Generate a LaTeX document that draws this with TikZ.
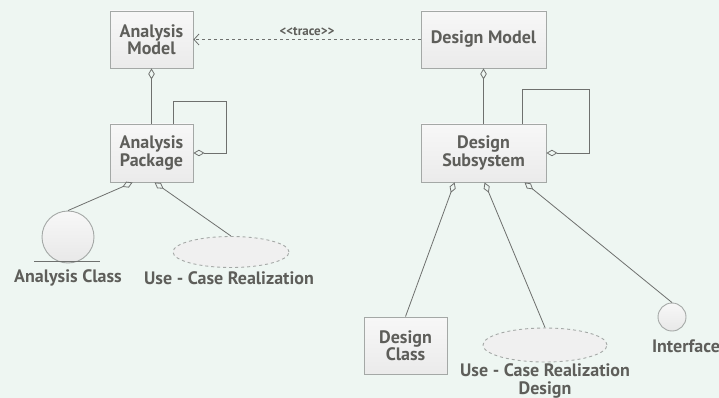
\documentclass[tikz,border=0pt]{standalone}
\usepackage{fontspec}
\setmainfont{PT Sans}
\usetikzlibrary{arrows.meta,calc,shapes.geometric}
\definecolor{bg}{HTML}{EEF6F2}
\definecolor{txt}{HTML}{5E5E5A}
\definecolor{edge}{HTML}{A4A8A6}
\definecolor{ln}{HTML}{6E706E}
\tikzset{
  every node/.style={text=txt,font=\bfseries\fontsize{18}{17.5}\selectfont},
  umlbox/.style={draw=edge,top color=gray!6,bottom color=gray!16,rectangle,inner sep=0pt,align=center,line width=0.9pt},
  umlcirc/.style={draw=edge,top color=gray!6,bottom color=gray!18,circle,inner sep=0pt,line width=0.9pt},
  umlell/.style={draw=edge,dashed,fill=gray!12,ellipse,inner sep=0pt,line width=0.9pt},
  lbl/.style={align=center,inner sep=0pt},
  agg/.style={draw=ln,line width=0.8pt,-{Diamond[open,length=11pt,width=6.5pt]}},
  trace/.style={draw=ln,line width=0.8pt,dashed,-{Straight Barb[length=5pt,width=11pt]}}
}
\begin{document}
\begin{tikzpicture}[x=1pt,y=-1pt]
\useasboundingbox[fill=bg] (0,0) rectangle (719,398);
\node[umlbox,minimum width=83,minimum height=57] (am) at (151.5,39.5) {Analysis\\Model};
\node[umlbox,minimum width=125,minimum height=57] (dm) at (483.5,39.5) {Design Model};
\node[umlbox,minimum width=83,minimum height=58] (ap) at (151.5,153) {Analysis\\Package};
\node[umlbox,minimum width=125,minimum height=58] (ds) at (483.5,153) {Design\\Subsystem};
\node[umlbox,minimum width=83,minimum height=57] (dc) at (405.5,345.5) {Design\\Class};
\node[umlcirc,minimum size=52] (ac) at (68,237) {};
\node[umlell,minimum width=116,minimum height=31] (ucr) at (231,252) {};
\node[umlell,minimum width=124,minimum height=34] (ucrd) at (545,345) {};
\node[umlcirc,minimum size=28] (intf) at (672,317) {};
\node[lbl] (acl) at (68,278) {Analysis Class};
\node[lbl] (ucrl) at (229,278) {Use - Case Realization};
\node[lbl] (ucrdl) at (545,381) {Use - Case Realization\\Design};
\node[lbl] (intfl) at (686,346) {Interface};
% trace
\draw[trace] (dm.west) -- node[above=0.5pt,font=\bfseries\fontsize{13}{14}\selectfont] (tl) {<\kern0pt<trace>\kern0pt>} (am.east);
% aggregations
\draw[agg] (ap.north) -- (am.south);
\draw[agg] (ds.north) -- (dm.south);
\draw[agg] ($(ap.north east)+(-20,0)$) -- ++(0,-22) -- ++(53,0) |- (ap.east);
\draw[agg] ($(ds.north east)+(-24,0)$) -- ++(0,-34) -- ++(67,0) |- (ds.east);
\draw[agg] (ac.north) -- ($(ap.south west)+(23,0)$);
\draw[agg] (ucr.north) -- ($(ap.south west)+(45,0)$);
\draw[agg] (dc.north) -- ($(ds.south west)+(34,0)$);
\draw[agg] (ucrd.north) -- ($(ds.south west)+(64,0)$);
\draw[agg] (intf.north) -- ($(ds.south west)+(104,0)$);
% analysis class underline
\draw[draw=ln,line width=0.8pt] ($(ac.south)+(-34,-2)$) -- ++(66,0);
\end{tikzpicture}
\end{document}
